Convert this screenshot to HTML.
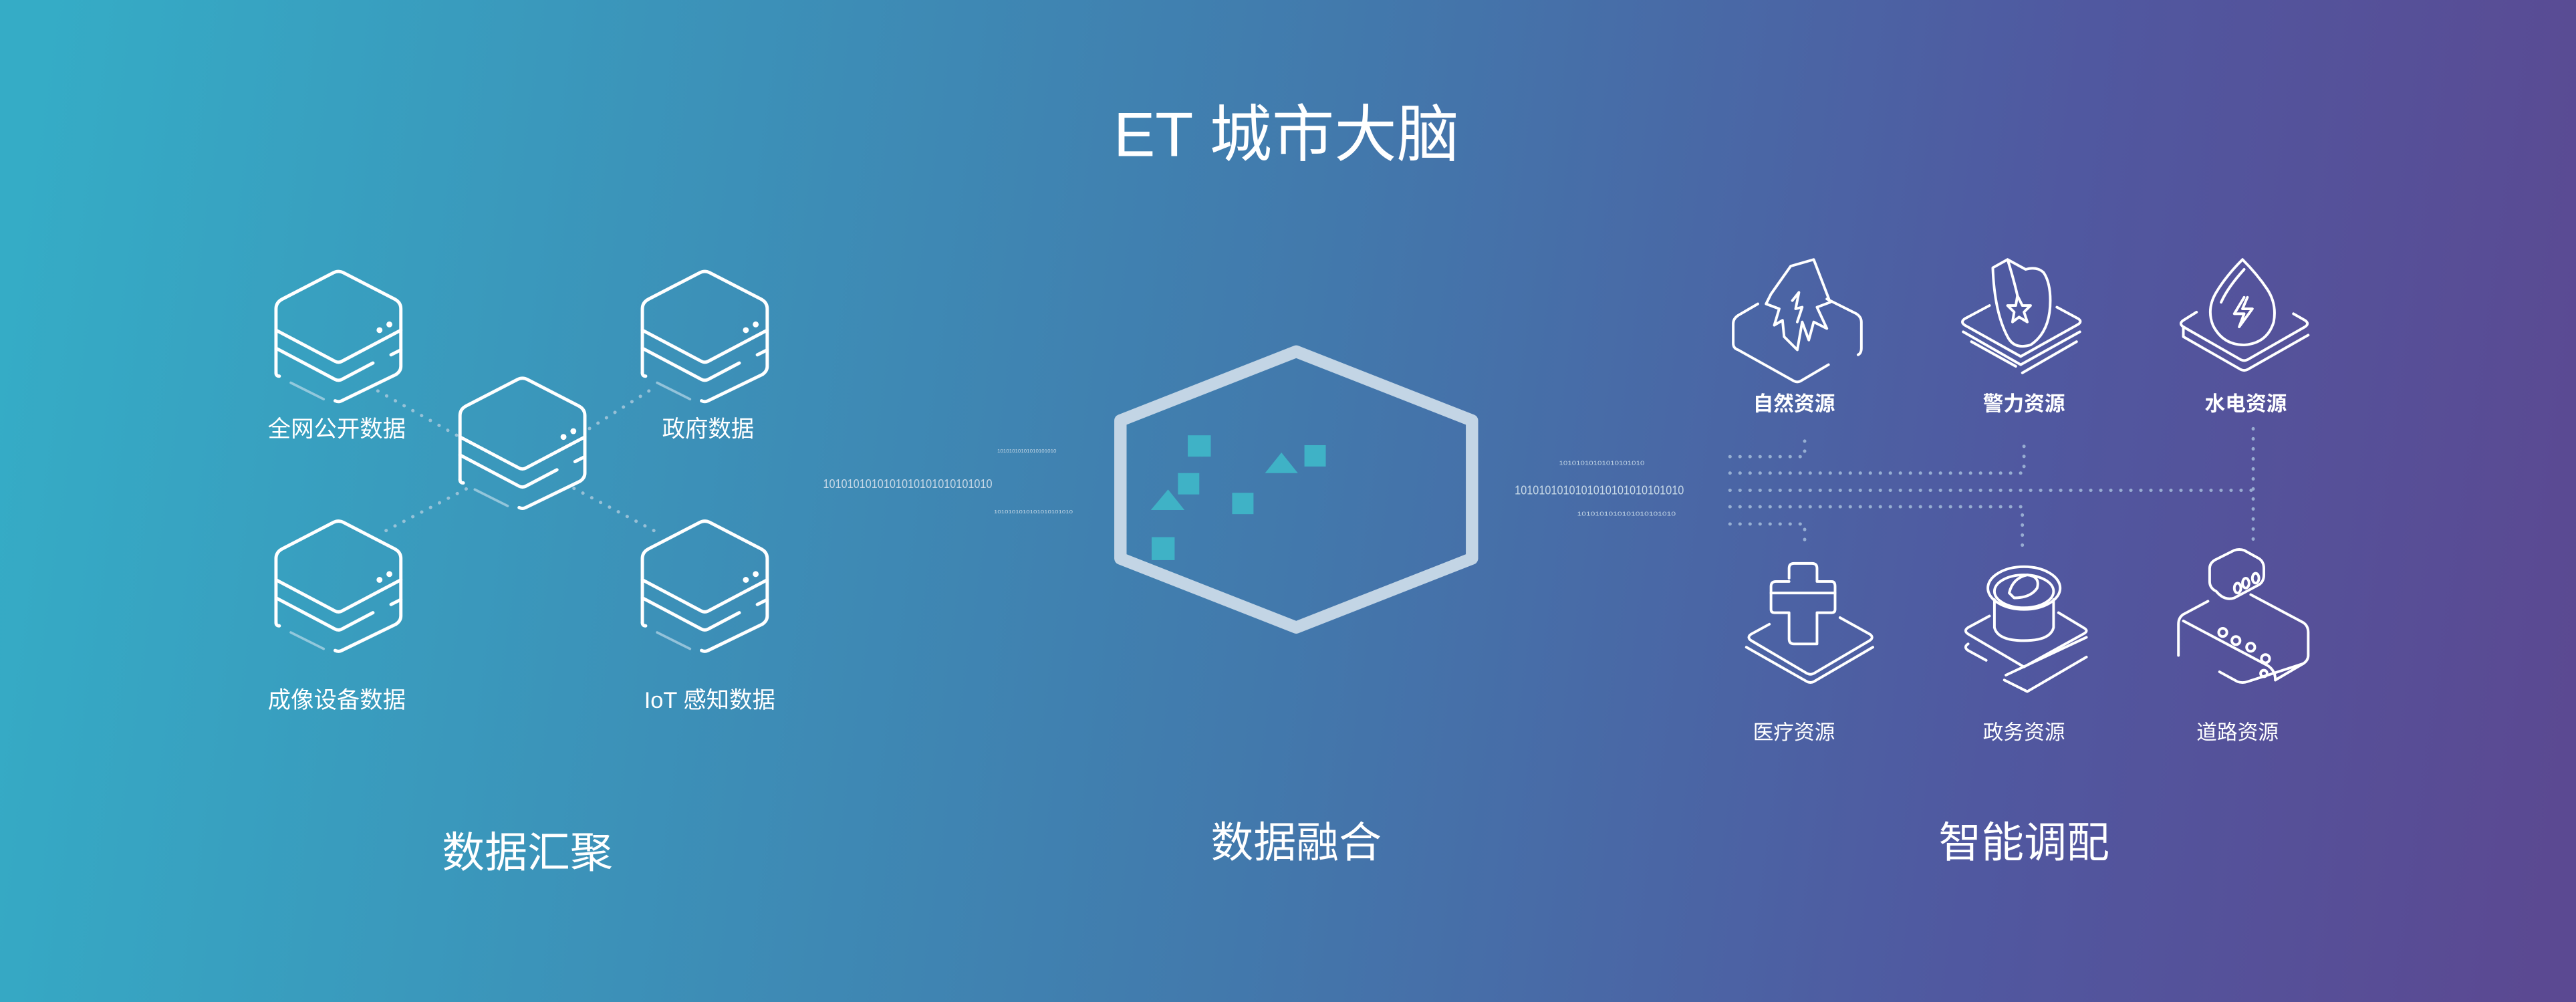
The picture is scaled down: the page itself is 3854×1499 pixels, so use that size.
<!DOCTYPE html>
<html><head><meta charset="utf-8"><style>
html,body{margin:0;padding:0;width:3854px;height:1499px;overflow:hidden}
svg{display:block}
text{font-family:"Liberation Sans","Noto Sans CJK SC",sans-serif;fill:#fff}
</style></head><body>
<svg width="3854" height="1499" viewBox="0 0 1568 610" preserveAspectRatio="none" xmlns="http://www.w3.org/2000/svg">
<defs>
<linearGradient id="bg" gradientUnits="userSpaceOnUse" x1="0" y1="200" x2="1568" y2="420">
<stop offset="0" stop-color="#35acc6"/>
<stop offset="0.5" stop-color="#4279ac"/>
<stop offset="0.78" stop-color="#5058a0"/>
<stop offset="1" stop-color="#5b4992"/>
</linearGradient>
<g id="cube" fill="none" stroke="#fff" stroke-width="2" stroke-linecap="round" stroke-linejoin="round">
<path d="M1,62 L1,23 Q1,19 5,17 L36,1 Q39,-0.5 42,1 L73,17 Q77,19 77,23 L77,58 Q77,61 74,63 L41,79 Q39,80 37,79"/>
<path d="M1,62 Q1,64 3,64"/>
<path d="M1,36 L37,55 Q39,56 41,55 L77,36"/>
<path d="M1,47 L37,66 Q39,67 41,66 L60,56"/>
<path d="M71,51 L77,48"/>
<circle cx="64" cy="36" r="1.8" fill="#fff" stroke="none"/>
<circle cx="70" cy="32.5" r="1.8" fill="#fff" stroke="none"/>
<path d="M10,68 L30,78" stroke="#cfe4f0" stroke-opacity="0.6" stroke-width="1.5"/>
</g>
</defs>
<rect width="1568" height="610" fill="url(#bg)"/>

<text x="783" y="95" font-size="38" text-anchor="middle">ET 城市大脑</text>

<!-- dotted connectors left -->
<g stroke="#b6cfe0" stroke-width="2" stroke-dasharray="0.1 6" stroke-linecap="round" opacity="0.75">
<line x1="230" y1="238" x2="278" y2="265"/>
<line x1="395" y1="238" x2="357" y2="262"/>
<line x1="235" y1="323" x2="285" y2="297"/>
<line x1="398" y1="323" x2="345" y2="295"/>
</g>

<use href="#cube" transform="translate(167,165)"/>
<use href="#cube" transform="translate(390,165)"/>
<use href="#cube" transform="translate(279,230)"/>
<use href="#cube" transform="translate(167,317)"/>
<use href="#cube" transform="translate(390,317)"/>

<g font-size="14" text-anchor="middle">
<text x="205" y="266">全网公开数据</text>
<text x="431" y="266">政府数据</text>
<text x="205" y="431">成像设备数据</text>
<text x="432" y="431">IoT 感知数据</text>
</g>

<!-- binary -->
<g fill="#c5d7e6" font-size="7.5">
<text x="501" y="297" textLength="103" lengthAdjust="spacingAndGlyphs" style="fill:#c5d7e6">1010101010101010101010101010</text>
<text x="607" y="275.5" font-size="3" textLength="36" lengthAdjust="spacingAndGlyphs" style="fill:#c5d7e6">10101010101010101010</text>
<text x="605" y="312.5" font-size="3" textLength="48" lengthAdjust="spacingAndGlyphs" style="fill:#c5d7e6">1010101010101010101010</text>
<text x="922" y="301" textLength="103" lengthAdjust="spacingAndGlyphs" style="fill:#c5d7e6">1010101010101010101010101010</text>
<text x="949" y="283" font-size="3.2" textLength="52" lengthAdjust="spacingAndGlyphs" style="fill:#c5d7e6">10101010101010101010</text>
<text x="960" y="314" font-size="3.2" textLength="60" lengthAdjust="spacingAndGlyphs" style="fill:#c5d7e6">1010101010101010101010</text>
</g>

<!-- center hexagon -->
<path d="M789,214 L896,256 L896,340 L789,382 L682,340 L682,256 Z" fill="none" stroke="#c3d5e5" stroke-width="7.5" stroke-linejoin="round"/>
<g fill="#3fb2c6">
<rect x="723" y="265" width="14" height="13"/>
<rect x="794" y="271" width="13" height="13"/>
<rect x="717" y="288" width="13" height="13"/>
<rect x="750" y="300" width="13" height="13"/>
<rect x="701" y="327" width="14" height="14"/>
<polygon points="780,275.5 790,288 770,288"/>
<polygon points="711,298 721,310.5 700.5,310.5"/>
</g>

<!-- right dotted network -->
<g stroke="#a9c2de" stroke-width="2" stroke-dasharray="0.1 6" stroke-linecap="round" fill="none" opacity="0.8">
<path d="M1053,278 L1098.5,278 L1098.5,266"/>
<path d="M1053,288 L1232,288 L1232,268"/>
<path d="M1053,298.5 L1371.5,298.5"/>
<path d="M1371.5,261 L1371.5,333"/>
<path d="M1053,308.5 L1231,308.5 L1231,332"/>
<path d="M1053,319 L1098.5,319 L1098.5,333"/>
</g>

<!-- icons -->
<g fill="none" stroke="#fff" stroke-width="1.6" stroke-linecap="round" stroke-linejoin="round">
<!-- nature -->
<path d="M1070,185 L1058,192 Q1055,194 1055,197 L1055,209 Q1055,212 1058,213 L1092,232 Q1094,233 1096,232 L1113,222"/>
<path d="M1112,182 L1130,191 Q1133,193 1133,196 L1133,212 Q1133,215 1131,216"/>
<path d="M1078,179 L1090,162 L1104,158 L1114,184 L1106,187 L1112,200 L1104,196 L1101,207 L1097,196 L1094,213 L1086,205 L1085,195 L1080,198 L1083,188 L1075,185 Z"/>
<path d="M1091,183 L1095,178 L1093,188 L1097,187 L1094,196"/>
<!-- police -->
<path d="M1211,186 L1196,194 Q1193,196 1196,198 L1230,217 L1264,198 Q1268,196 1265,194 L1252,187"/>
<path d="M1195,202 L1230,222 L1266,202"/>
<path d="M1200,208 L1227,223 M1231,227 L1264,208"/>
<path d="M1213,163 L1222,158 L1233,164 Q1240,162 1244,166 Q1248,172 1248,183 Q1248,202 1236,210 Q1226,213 1222,205 Q1214,190 1213,163 Z"/>
<path d="M1222,158 Q1226,171 1228,180"/>
<path d="M1228,180 L1231,186 L1236,186 L1232,190 L1234,196 L1229,193 L1225,196 L1226,190 L1222,186 L1227,186 Z"/>
<!-- water -->
<path d="M1337,190 L1329,195 Q1326,197 1329,199 L1364,219 Q1366,220 1368,219 L1403,199 Q1406,197 1403,195 L1396,191"/>
<path d="M1329,199 L1329,205 L1364,225 Q1366,226 1368,225 L1405,204"/>
<path d="M1365,158 Q1355,168 1349,178 Q1343,188 1347,198 Q1353,210 1366,210 Q1380,209 1384,196 Q1386,185 1380,176 Q1374,167 1365,158 Z"/>
<path d="M1366,164 Q1356,175 1352,184"/>
<path d="M1366,181 L1360,191 L1366,191 L1363,199 L1371,188 L1365,188 L1368,181"/>
<!-- medical -->
<path d="M1077,380 L1066,386 Q1063,388 1066,390 L1100,410 Q1102,411 1104,410 L1138,390 Q1141,388 1138,386 L1120,376"/>
<path d="M1063,394 L1100,415 Q1102,416 1104,415 L1140,394"/>
<path d="M1089,352 L1089,346 Q1089,343 1092,343 L1103,343 Q1106,343 1106,346 L1106,354 L1115,354 Q1117,354 1117,357 L1117,371 Q1117,373 1115,373 L1106,373 L1106,392 L1092,392 Q1089,392 1089,389 L1089,373 L1080,373 Q1078,373 1078,371 L1078,357 Q1078,354 1081,354 L1089,354"/>
<path d="M1078,361 L1117,361"/>
<!-- government -->
<path d="M1211,375 L1198,382 Q1195,384 1198,386 L1232,406 L1268,386 Q1272,384 1268,382 L1253,373"/>
<path d="M1198,392 Q1195,394 1198,396 L1209,402 M1221,411 L1270,388"/>
<path d="M1220,414 L1234,421 L1270,400"/>
<path d="M1214,365 L1214,382 Q1216,390 1232,390 Q1248,390 1250,382 L1250,365"/>
<ellipse cx="1232" cy="358" rx="22" ry="13"/>
<ellipse cx="1232" cy="360" rx="18" ry="10"/>
<path d="M1223,361 Q1225,352 1234,350 Q1242,351 1240,358 Q1236,364 1226,364 Z"/>
<!-- road -->
<path d="M1349,360 Q1345,358 1345,354 L1345,346 Q1345,343 1348,341 L1360,335 Q1363,334 1366,335 L1375,340 Q1378,342 1378,346 L1378,350 Q1378,354 1375,356 L1360,364 Q1354,366 1349,360 Z"/>
<ellipse cx="1362" cy="358" rx="2" ry="3"/><ellipse cx="1367" cy="355" rx="2" ry="3"/><ellipse cx="1373" cy="352" rx="2" ry="3"/>
<path d="M1344,366 L1329,374 Q1326,376 1326,380 L1326,399 M1329,378 L1380,405 Q1385,408 1385,414"/>
<path d="M1370,362 L1402,379 Q1405,381 1405,385 L1405,399 Q1405,402 1402,404 L1368,415 Q1365,416 1362,415 L1351,409"/>
<path d="M1385,414 L1402,404"/>
<circle cx="1353" cy="385" r="2.5"/><circle cx="1361" cy="390" r="2.5"/><circle cx="1370" cy="394" r="2.5"/><circle cx="1379" cy="401" r="2.5"/><circle cx="1378" cy="410" r="2"/>
</g>

<g font-size="12.5" text-anchor="middle">
<text x="1092" y="250" font-weight="bold">自然资源</text>
<text x="1232" y="250" font-weight="bold">警力资源</text>
<text x="1367" y="250" font-weight="bold">水电资源</text>
<text x="1092" y="450">医疗资源</text>
<text x="1232" y="450">政务资源</text>
<text x="1362" y="450">道路资源</text>
</g>

<g font-size="26" text-anchor="middle">
<text x="321" y="528">数据汇聚</text>
<text x="789" y="522">数据融合</text>
<text x="1232" y="522">智能调配</text>
</g>
</svg>
</body></html>
